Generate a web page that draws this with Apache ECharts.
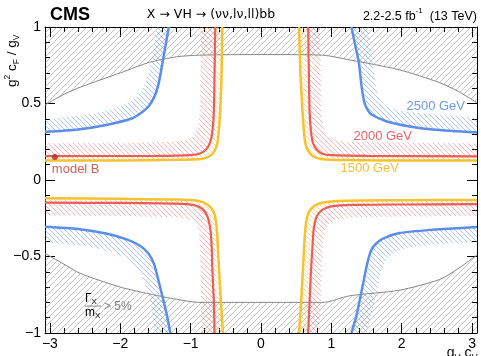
<!DOCTYPE html>
<html><head><meta charset="utf-8">
<script src="https://cdn.jsdelivr.net/npm/echarts@6/dist/echarts.min.js"></script>
<style>html,body{margin:0;padding:0;background:#fff}#c{width:481px;height:356px}</style>
</head><body><div id="c"></div>
<script>
// ---- ticks ----
const xMajorTicks = [-3, -2, -1, 0, 1, 2, 3];
const xMinorTicks = [-3, -2.8, -2.6, -2.4, -2.2, -2, -1.8, -1.6, -1.4, -1.2, -1, -0.8, -0.6, -0.4, -0.2, 0, 0.2, 0.4, 0.6, 0.8, 1, 1.2, 1.4, 1.6, 1.8, 2, 2.2, 2.4, 2.6, 2.8, 3];
const yMajorTicks = [-1, -0.5, 0, 0.5, 1];
const yMinorTicks = [-1, -0.9, -0.8, -0.7, -0.6, -0.5, -0.4, -0.3, -0.2, -0.1, 0, 0.1, 0.2, 0.3, 0.4, 0.5, 0.6, 0.7, 0.8, 0.9, 1];

// ---- Gamma/m > 5% boundaries ----
const grayUpper = [[-3.07,0.49],[-2.8,0.56],[-2.55,0.61],[-2.0,0.70],[-1.58,0.77],[-1.2,0.805],[-0.87,0.816],[0,0.82],[0.87,0.816],[1.26,0.785],[1.97,0.72],[2.54,0.636],[2.8,0.58],[3.07,0.505]];
const grayLower = [[-3.07,-0.48],[-2.8,-0.55],[-2.57,-0.61],[-2.0,-0.70],[-1.58,-0.745],[-1.2,-0.78],[-0.87,-0.80],[0,-0.80],[0.88,-0.80],[1.26,-0.757],[1.97,-0.72],[2.54,-0.65],[2.8,-0.58],[3.07,-0.49]];

// ---- 1500 GeV ----
const m1500_UR = [[0.54,1.0],[0.56,0.7],[0.59,0.45],[0.61,0.32],[0.63,0.24],[0.67,0.19],[0.74,0.155],[0.85,0.138],[1.2,0.13],[2.0,0.128],[3.07,0.127]];
const m1500_URb = [[0.65,1.0],[0.66,0.7],[0.69,0.45],[0.71,0.32],[0.74,0.26],[0.79,0.21],[0.86,0.185],[1.0,0.17],[1.5,0.165],[3.07,0.163]];
const m1500_UL = [[-0.55,1.0],[-0.56,0.7],[-0.58,0.45],[-0.6,0.32],[-0.62,0.24],[-0.66,0.19],[-0.73,0.155],[-0.85,0.138],[-1.2,0.132],[-2.0,0.128],[-3.07,0.127]];
const m1500_ULb = [[-0.66,1.0],[-0.67,0.7],[-0.69,0.45],[-0.71,0.32],[-0.74,0.26],[-0.79,0.21],[-0.86,0.185],[-1.0,0.17],[-1.5,0.165],[-3.07,0.163]];
const m1500_LL = [[-3.07,-0.12],[-2.0,-0.123],[-1.2,-0.127],[-0.9,-0.135],[-0.76,-0.16],[-0.68,-0.2],[-0.64,-0.27],[-0.62,-0.38],[-0.6,-0.55],[-0.57,-0.8],[-0.54,-1.0]];
const m1500_LLb = [[-3.07,-0.155],[-1.5,-0.16],[-1.0,-0.17],[-0.88,-0.185],[-0.8,-0.22],[-0.75,-0.28],[-0.73,-0.38],[-0.71,-0.55],[-0.68,-0.8],[-0.65,-1.0]];
const m1500_LR = [[3.07,-0.13],[2.0,-0.132],[1.2,-0.135],[0.9,-0.145],[0.77,-0.165],[0.68,-0.21],[0.64,-0.28],[0.62,-0.38],[0.6,-0.55],[0.57,-0.8],[0.54,-1.0]];
const m1500_LRb = [[3.07,-0.165],[1.5,-0.168],[1.0,-0.175],[0.87,-0.19],[0.79,-0.23],[0.75,-0.29],[0.73,-0.38],[0.71,-0.55],[0.68,-0.8],[0.65,-1.0]];

// ---- 2000 GeV ----
const m2000_UR = [[0.67,1.0],[0.68,0.7],[0.69,0.45],[0.71,0.32],[0.74,0.24],[0.79,0.2],[0.87,0.172],[1.0,0.162],[1.5,0.158],[3.07,0.155]];
const m2000_URb = [[0.84,1.0],[0.85,0.7],[0.86,0.45],[0.88,0.36],[0.92,0.3],[1.0,0.265],[1.2,0.25],[2.0,0.245],[3.07,0.24]];
const m2000_UL = [[-0.65,1.0],[-0.66,0.7],[-0.67,0.45],[-0.69,0.32],[-0.72,0.25],[-0.77,0.205],[-0.86,0.175],[-1.0,0.163],[-1.5,0.158],[-3.07,0.156]];
const m2000_ULb = [[-0.86,1.0],[-0.86,0.7],[-0.87,0.45],[-0.89,0.36],[-0.93,0.3],[-1.0,0.27],[-1.2,0.25],[-2.0,0.243],[-3.07,0.24]];
const m2000_LL = [[-3.07,-0.148],[-2.0,-0.15],[-1.2,-0.155],[-0.95,-0.165],[-0.83,-0.19],[-0.76,-0.24],[-0.72,-0.32],[-0.7,-0.45],[-0.69,-0.6],[-0.67,-0.8],[-0.66,-1.0]];
const m2000_LLb = [[-3.07,-0.23],[-2.0,-0.235],[-1.2,-0.245],[-1.0,-0.26],[-0.92,-0.29],[-0.88,-0.34],[-0.87,-0.45],[-0.86,-0.6],[-0.85,-0.8],[-0.85,-1.0]];
const m2000_LR = [[3.07,-0.158],[2.0,-0.16],[1.3,-0.163],[1.0,-0.172],[0.87,-0.195],[0.79,-0.24],[0.75,-0.32],[0.73,-0.45],[0.71,-0.6],[0.69,-0.8],[0.67,-1.0]];
const m2000_LRb = [[3.07,-0.235],[2.0,-0.238],[1.3,-0.245],[1.05,-0.26],[0.96,-0.29],[0.9,-0.34],[0.88,-0.45],[0.86,-0.6],[0.85,-0.8],[0.83,-1.0]];

// ---- 2500 GeV ----
const m2500_UR = [[1.285,1.0],[1.34,0.88],[1.39,0.77],[1.43,0.61],[1.47,0.505],[1.52,0.455],[1.57,0.428],[1.78,0.384],[2.11,0.35],[2.44,0.33],[3.07,0.31]];
const m2500_URb = [[1.52,1.0],[1.56,0.85],[1.6,0.72],[1.64,0.6],[1.7,0.52],[1.78,0.48],[2.0,0.45],[2.44,0.43],[3.07,0.405]];
const m2500_UL = [[-1.31,1.0],[-1.36,0.87],[-1.41,0.74],[-1.46,0.62],[-1.52,0.54],[-1.6,0.48],[-1.7,0.44],[-1.85,0.40],[-2.2,0.36],[-2.6,0.33],[-3.07,0.314]];
const m2500_ULb = [[-1.48,1.0],[-1.52,0.87],[-1.57,0.75],[-1.63,0.65],[-1.7,0.58],[-1.8,0.53],[-2.0,0.48],[-2.4,0.43],[-3.07,0.395]];
const m2500_LL = [[-3.07,-0.305],[-2.6,-0.32],[-2.2,-0.35],[-1.9,-0.39],[-1.72,-0.43],[-1.6,-0.48],[-1.52,-0.55],[-1.45,-0.67],[-1.38,-0.8],[-1.33,-0.9],[-1.29,-1.0]];
const m2500_LLb = [[-3.07,-0.405],[-2.5,-0.43],[-2.1,-0.47],[-1.85,-0.53],[-1.72,-0.6],[-1.63,-0.7],[-1.57,-0.8],[-1.53,-0.9],[-1.51,-1.0]];
const m2500_LR = [[3.07,-0.307],[2.44,-0.325],[1.97,-0.347],[1.73,-0.384],[1.59,-0.44],[1.52,-0.526],[1.45,-0.68],[1.36,-0.88],[1.285,-1.0]];
const m2500_LRb = [[3.07,-0.405],[2.44,-0.42],[2.1,-0.44],[1.9,-0.47],[1.78,-0.52],[1.7,-0.6],[1.65,-0.72],[1.58,-0.86],[1.5,-1.0]];

const modelB = [[-2.93, 0.15]];

// ---- styling ----
const C1500 = '#f6c232', C2000 = '#ee5b5b', C2500 = '#5b8ee8';
function hatch(color, s, lw, dir) {
  const c = document.createElement('canvas'); c.width = s; c.height = s;
  const g = c.getContext('2d'); g.strokeStyle = color; g.lineWidth = lw;
  g.beginPath();
  for (const k of [-s, 0, s]) {
    if (dir === 'b') { g.moveTo(k, 0); g.lineTo(k + s, s); }
    else { g.moveTo(k, s); g.lineTo(k + s, 0); }
  }
  g.stroke();
  return { image: c, repeat: 'repeat' };
}
const grayFill = hatch('rgba(120,120,120,0.42)', 6, 1, 'f');
const fill1500 = hatch('rgba(246,194,50,0.6)', 5, 1, 'b');
const fill2000 = hatch('rgba(238,91,91,0.45)', 5, 1, 'b');
const fill2500 = hatch('rgba(91,142,232,0.5)', 5, 1, 'b');

function poly(pts, fill, z) {
  return { type: 'custom', coordinateSystem: 'cartesian2d', xAxisIndex: 0, yAxisIndex: 0, silent: true, z: z,
    data: [[0, 0]],
    renderItem: (p, api) => ({ type: 'polygon', shape: { points: pts.map(q => api.coord(q)) }, style: { fill: fill, stroke: null } }) };
}
function band(line, outer, fill) { return poly(line.concat(outer.slice().reverse()), fill, 2); }
function curve(pts, color, w, z) {
  return { type: 'line', data: pts, showSymbol: false, symbol: 'none', silent: true, z: z || 4, smooth: 0.25,
    lineStyle: { color: color, width: w }, xAxisIndex: 0, yAxisIndex: 0 };
}

const series = [
  poly(grayUpper.concat([[3.07, 1], [-3.07, 1]]), grayFill, 1),
  poly(grayLower.concat([[3.07, -1], [-3.07, -1]]), grayFill, 1),
  curve(grayUpper, '#888', 1, 3), curve(grayLower, '#888', 1, 3),
  band(m2500_UR, m2500_URb, fill2500), band(m2500_UL, m2500_ULb, fill2500), band(m2500_LL, m2500_LLb, fill2500), band(m2500_LR, m2500_LRb, fill2500),
  band(m2000_UR, m2000_URb, fill2000), band(m2000_UL, m2000_ULb, fill2000), band(m2000_LL, m2000_LLb, fill2000), band(m2000_LR, m2000_LRb, fill2000),
  band(m1500_UR, m1500_URb, fill1500), band(m1500_UL, m1500_ULb, fill1500), band(m1500_LL, m1500_LLb, fill1500), band(m1500_LR, m1500_LRb, fill1500),
  curve(m2500_UR, C2500, 2.5), curve(m2500_UL, C2500, 2.5), curve(m2500_LL, C2500, 2.5), curve(m2500_LR, C2500, 2.5),
  curve(m2000_UR, C2000, 2.2), curve(m2000_UL, C2000, 2.2), curve(m2000_LL, C2000, 2.2), curve(m2000_LR, C2000, 2.2),
  curve(m1500_UR, C1500, 2.5), curve(m1500_UL, C1500, 2.5), curve(m1500_LL, C1500, 2.5), curve(m1500_LR, C1500, 2.5),
  { type: 'scatter', data: modelB, symbol: 'circle', symbolSize: 6, z: 6, silent: true,
    itemStyle: { color: '#b02a2a' },
    label: { show: true, position: 'bottom', distance: 3, formatter: 'model B', color: '#c0392b', fontSize: 13,
      fontFamily: 'Liberation Sans', align: 'left', offset: [-3, 0] } }
];

const fmt = v => (v < 0 ? '\u2212' + Math.abs(v) : String(v));
const FONT = 'Liberation Sans';
function xAx(pos, ticks, len, showLine, showLabel) {
  return { type: 'value', position: pos, min: -3.07, max: 3.07, splitLine: { show: false },
    axisLine: { show: showLine, onZero: false, lineStyle: { color: '#000', width: 1 } },
    axisTick: { show: true, inside: true, length: len, customValues: ticks, lineStyle: { color: '#000', width: 1 } },
    axisLabel: { show: showLabel, customValues: ticks, formatter: fmt, color: '#000', fontSize: 14, fontFamily: FONT, margin: 4 } };
}
function yAx(pos, ticks, len, showLine, showLabel) {
  return { type: 'value', position: pos, min: -1, max: 1, splitLine: { show: false },
    axisLine: { show: showLine, onZero: false, lineStyle: { color: '#000', width: 1 } },
    axisTick: { show: true, inside: true, length: len, customValues: ticks, lineStyle: { color: '#000', width: 1 } },
    axisLabel: { show: showLabel, customValues: ticks, formatter: fmt, color: '#000', fontSize: 14, fontFamily: FONT, margin: 4 } };
}

const chart = echarts.init(document.getElementById('c'), null, { renderer: 'canvas' });
chart.setOption({
  animation: false,
  backgroundColor: '#fff',
  grid: { left: 45, right: 4, top: 27, bottom: 23, containLabel: false },
  xAxis: [xAx('bottom', xMajorTicks, 10, true, true), xAx('bottom', xMinorTicks, 5, false, false),
          xAx('top', xMajorTicks, 10, true, false), xAx('top', xMinorTicks, 5, false, false)],
  yAxis: [yAx('left', yMajorTicks, 10, true, true), yAx('left', yMinorTicks, 5, false, false),
          yAx('right', yMajorTicks, 10, true, false), yAx('right', yMinorTicks, 5, false, false)],
  series: series,
  graphic: [
    { type: 'text', x: 50, y: 15, style: { text: 'CMS', font: 'bold 18px "Liberation Sans"', fill: '#000', align: 'left', textAlign: 'left', verticalAlign: 'middle', textVerticalAlign: 'middle' } },
    { type: 'text', x: 211, y: 15, style: { text: 'X \u2192 VH \u2192 (\u03bd\u03bd,l\u03bd,ll)bb', font: '12.5px "DejaVu Sans"', fill: '#000', align: 'center', textAlign: 'center', verticalAlign: 'middle', textVerticalAlign: 'middle' } },
    { type: 'text', x: 477, y: 15, style: { text: '{a|2.2-2.5 fb}{s|-1}{a|  (13 TeV)}', align: 'right', textAlign: 'right', verticalAlign: 'middle', textVerticalAlign: 'middle',
        rich: { a: { fontSize: 12.5, fontFamily: FONT, fill: '#000', color: '#000', lineHeight: 16, verticalAlign: 'bottom' }, s: { fontSize: 8, fontFamily: FONT, color: '#000', lineHeight: 16, verticalAlign: 'top' } } } },
    { type: 'text', x: 12, y: 87, rotation: Math.PI / 2, style: { text: '{a|g}{p|2}{a| c}{b|F}{a| / g}{b|V}', align: 'left', textAlign: 'left', verticalAlign: 'middle', textVerticalAlign: 'middle',
        rich: { a: { fontSize: 13.5, fontFamily: FONT, color: '#000', lineHeight: 18, verticalAlign: 'middle' }, p: { fontSize: 8.5, fontFamily: FONT, color: '#000', lineHeight: 18, verticalAlign: 'top' }, b: { fontSize: 8.5, fontFamily: FONT, color: '#000', lineHeight: 18, verticalAlign: 'bottom' } } } },
    { type: 'text', x: 478, y: 344, style: { text: '{a|g}{b|V}{a| c}{b|H}', align: 'right', textAlign: 'right', verticalAlign: 'top', textVerticalAlign: 'top',
        rich: { a: { fontSize: 14, fontFamily: FONT, color: '#000', lineHeight: 18, verticalAlign: 'middle' }, b: { fontSize: 9, fontFamily: FONT, color: '#000', lineHeight: 18, verticalAlign: 'bottom' } } } },
    { type: 'text', x: 465, y: 106, z: 10, style: { text: '2500 GeV', font: '13px "Liberation Sans"', fill: '#6a9be8', align: 'right', textAlign: 'right', verticalAlign: 'middle', textVerticalAlign: 'middle' } },
    { type: 'text', x: 412, y: 136, z: 10, style: { text: '2000 GeV', font: '13px "Liberation Sans"', fill: '#ec6464', align: 'right', textAlign: 'right', verticalAlign: 'middle', textVerticalAlign: 'middle' } },
    { type: 'text', x: 399, y: 168, z: 10, style: { text: '1500 GeV', font: '13px "Liberation Sans"', fill: '#f3c03a', align: 'right', textAlign: 'right', verticalAlign: 'middle', textVerticalAlign: 'middle' } },
    { type: 'text', x: 85, y: 299, z: 10, style: { text: '{a|\u0393}{b|X}', align: 'left', textAlign: 'left', verticalAlign: 'middle', textVerticalAlign: 'middle',
        rich: { a: { fontSize: 12, fontFamily: FONT, color: '#888', lineHeight: 14 }, b: { fontSize: 8, fontFamily: FONT, color: '#888', lineHeight: 14, verticalAlign: 'bottom' } } } },
    { type: 'line', z: 10, shape: { x1: 85, y1: 306, x2: 101, y2: 306 }, style: { stroke: '#888', lineWidth: 1 } },
    { type: 'text', x: 85, y: 313, z: 10, style: { text: '{a|m}{b|X}', align: 'left', textAlign: 'left', verticalAlign: 'middle', textVerticalAlign: 'middle',
        rich: { a: { fontSize: 12, fontFamily: FONT, color: '#888', lineHeight: 14 }, b: { fontSize: 8, fontFamily: FONT, color: '#888', lineHeight: 14, verticalAlign: 'bottom' } } } },
    { type: 'text', x: 104, y: 307, z: 10, style: { text: '> 5%', font: '12px "Liberation Sans"', fill: '#888', align: 'left', textAlign: 'left', verticalAlign: 'middle', textVerticalAlign: 'middle' } }
  ]
});
</script>
</body></html>
